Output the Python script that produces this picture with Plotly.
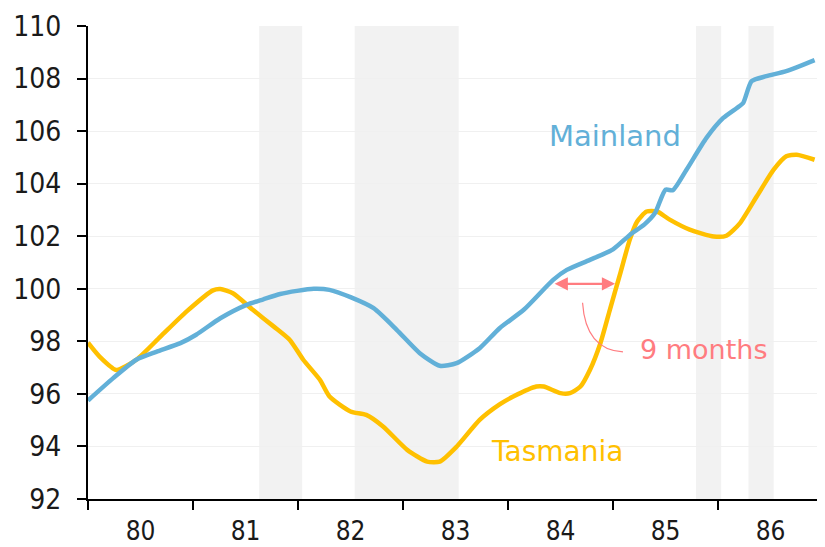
import plotly.graph_objects as go

# ---- data ----
mainland_x = [1980.0, 1980.24, 1980.46, 1980.65, 1980.88, 1981.03, 1981.26, 1981.51, 1981.67, 1981.83,
              1981.99, 1982.15, 1982.30, 1982.50, 1982.72, 1982.94, 1983.16, 1983.35, 1983.51, 1983.73,
              1983.92, 1984.15, 1984.43, 1984.56, 1984.78, 1985.0, 1985.16, 1985.30, 1985.40, 1985.50,
              1985.57, 1985.70, 1985.89, 1986.05, 1986.18, 1986.24, 1986.32, 1986.46, 1986.65, 1986.92]
mainland_y = [95.75, 96.6, 97.3, 97.6, 97.93, 98.25, 98.88, 99.39, 99.6, 99.8,
              99.92, 100.0, 99.96, 99.68, 99.26, 98.44, 97.55, 97.07, 97.17, 97.74,
              98.5, 99.2, 100.34, 100.72, 101.1, 101.5, 102.05, 102.45, 102.88, 103.77,
              103.75, 104.53, 105.74, 106.5, 106.88, 107.07, 107.9, 108.09, 108.28, 108.7]

tas_x = [1980.0, 1980.11, 1980.27, 1980.46, 1980.69, 1980.94, 1981.19, 1981.26, 1981.38, 1981.57,
         1981.77, 1981.92, 1982.05, 1982.21, 1982.30, 1982.50, 1982.65, 1982.81, 1983.04, 1983.23,
         1983.35, 1983.51, 1983.73, 1983.92, 1984.05, 1984.27, 1984.34, 1984.50, 1984.59, 1984.69,
         1984.78, 1984.88, 1984.97, 1985.07, 1985.16, 1985.23, 1985.32, 1985.42, 1985.54, 1985.73,
         1985.96, 1986.08, 1986.21, 1986.37, 1986.53, 1986.65, 1986.75, 1986.92]
tas_y = [97.95, 97.42, 96.91, 97.3, 98.18, 99.14, 99.94, 99.99, 99.83, 99.2,
         98.56, 98.06, 97.3, 96.53, 95.9, 95.33, 95.2, 94.76, 93.87, 93.42,
         93.42, 93.99, 95.01, 95.6, 95.9, 96.28, 96.28, 96.03, 96.03, 96.28,
         96.91, 97.93, 99.2, 100.6, 101.87, 102.56, 102.94, 102.94, 102.63, 102.25,
         101.99, 102.02, 102.5, 103.52, 104.53, 105.04, 105.1, 104.91]

recession_starts = [1981.63, 1982.54, 1985.79, 1986.29]
recession_ends = [1982.04, 1983.53, 1986.03, 1986.53]

year_centres = [1980.5, 1981.5, 1982.5, 1983.5, 1984.5, 1985.5, 1986.5]
year_labels = ["80", "81", "82", "83", "84", "85", "86"]
y_ticks = [92, 94, 96, 98, 100, 102, 104, 106, 108, 110]

BLUE = "#62B0D8"
YELLOW = "#FFC000"
PINK = "#FF7C80"
TEXT_FONT = "DejaVu Sans"
TICK_FONT = "DejaVu Sans Condensed, DejaVu Sans"

fig = go.Figure()

fig.add_trace(go.Scatter(x=tas_x, y=tas_y, mode="lines", name="Tasmania",
                         line=dict(color=YELLOW, width=4.5, shape="spline", smoothing=0.6)))
fig.add_trace(go.Scatter(x=mainland_x, y=mainland_y, mode="lines", name="Mainland",
                         line=dict(color=BLUE, width=4.5, shape="spline", smoothing=0.6)))

for s, e in zip(recession_starts, recession_ends):
    fig.add_shape(type="rect", xref="x", yref="y", x0=s, x1=e, y0=92, y1=110,
                  fillcolor="#F2F2F2", line=dict(width=0), layer="below")

# double-headed arrow and arc
fig.add_annotation(x=1985.02, y=100.19, ax=1984.43, ay=100.19, xref="x", yref="y",
                   axref="x", ayref="y", text="", showarrow=True, arrowhead=2, arrowside="end+start",
                   arrowsize=1.2, arrowwidth=2.2, arrowcolor=PINK)
fig.add_shape(type="path", xref="x", yref="y",
              path="M 1984.71,99.47 Q 1984.74,97.68 1985.095,97.6",
              line=dict(color=PINK, width=1.2))

fig.add_annotation(x=1980.11, y=110.2, xref="x", yref="y", text="Pre-recession peak<br>in employment = 100",
                   showarrow=False, xanchor="left", yanchor="top", align="left",
                   font=dict(family=TEXT_FONT, size=23, color="#1A1A1A"))
fig.add_annotation(x=1984.37, y=105.8, xref="x", yref="y", text="Mainland", showarrow=False,
                   xanchor="left", yanchor="middle", font=dict(family=TEXT_FONT, size=29, color=BLUE))
fig.add_annotation(x=1983.82, y=93.8, xref="x", yref="y", text="Tasmania", showarrow=False,
                   xanchor="left", yanchor="middle", font=dict(family=TEXT_FONT, size=28, color=YELLOW))
fig.add_annotation(x=1985.24, y=97.7, xref="x", yref="y", text="9 months", showarrow=False,
                   xanchor="left", yanchor="middle", font=dict(family=TEXT_FONT, size=27, color=PINK))

# The page body has an 8px default margin, so the figure is sized to fill the window from there.
fig.update_layout(
    width=817, height=539,
    margin=dict(l=80, r=2, t=18, b=48, autoexpand=False),
    plot_bgcolor="white", paper_bgcolor="white",
    showlegend=False,
    xaxis=dict(range=[1980, 1987], tickmode="array", tickvals=year_centres, ticktext=year_labels,
               ticks="", showgrid=False, zeroline=False, showline=True, linecolor="black", linewidth=2,
               automargin=False,
               tickfont=dict(family=TICK_FONT, size=26, color="#1A1A1A"), ticklabelstandoff=8,
               minor=dict(tickmode="linear", tick0=1980, dtick=1, ticks="outside", ticklen=9,
                          tickwidth=2, tickcolor="black", showgrid=False)),
    yaxis=dict(range=[92, 110], tickmode="array", tickvals=y_ticks, ticks="outside", ticklen=9,
               tickwidth=2, tickcolor="black", showline=True, linecolor="black", linewidth=2,
               showgrid=True, gridcolor="#F0F0F0", gridwidth=1, zeroline=False, automargin=False,
               tickfont=dict(family=TICK_FONT, size=28, color="#1A1A1A"), ticklabelstandoff=10),
)

fig.write_html("out.html")
